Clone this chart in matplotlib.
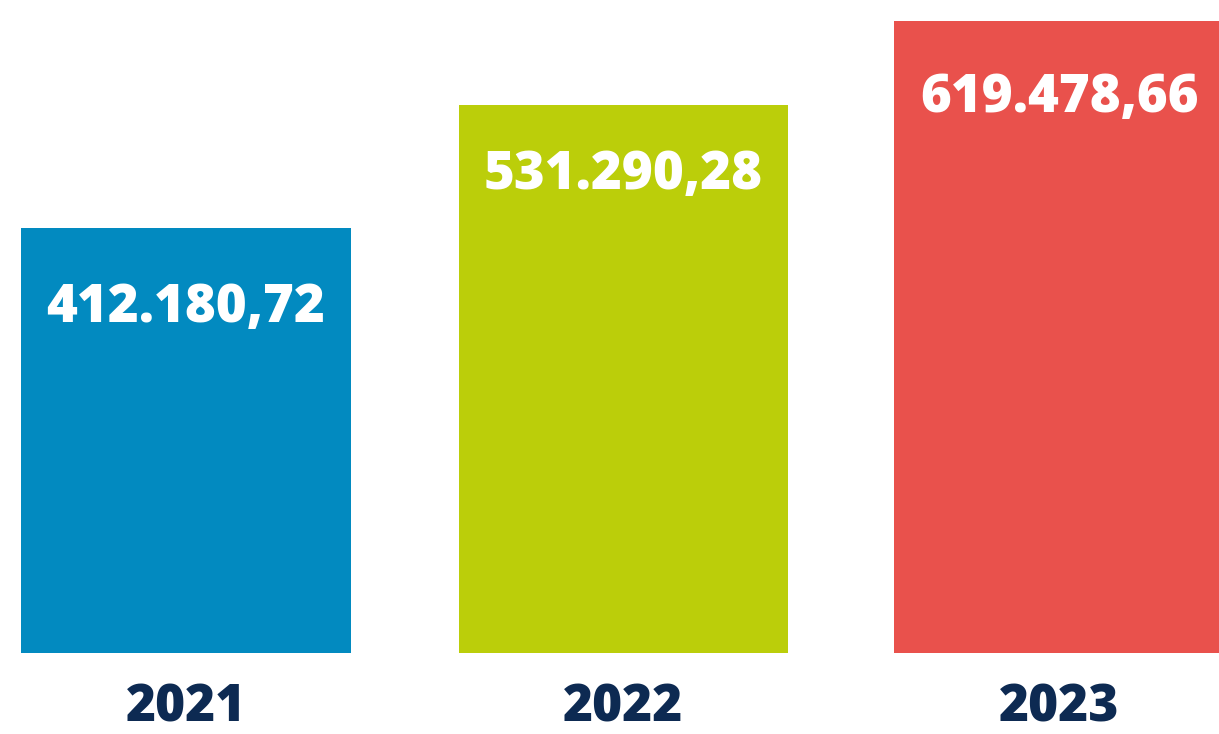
import matplotlib

matplotlib.use("Agg")
import matplotlib.pyplot as plt

years = ["2021", "2022", "2023"]
values = [412180.72, 531290.28, 619478.66]
value_labels = ["412.180,72", "531.290,28", "619.478,66"]
colors = ["#028AC0", "#BBCE0A", "#E9514C"]
# Abstand der Werte unter der Balkenoberkante (Pixel)
label_offsets = [80, 70, 84]

fig = plt.figure(figsize=(12.19, 7.34), dpi=100)
ax = fig.add_axes([21 / 1219, 81 / 734, 1198 / 1219, 632 / 734])

x = [0, 1.008, 2.012]
ax.bar(x, values, width=0.76, color=colors)
ax.set_xlim(-0.38, 2.38)
ax.set_ylim(0, max(values) * 0.99)

for i, (v, lab) in enumerate(zip(values, value_labels)):
    ax.annotate(lab, (x[i], v), xytext=(0, -label_offsets[i] * 0.72),
                textcoords="offset points", ha="center", va="center",
                color="white", fontsize=38, fontweight="heavy",
                family="Open Sans", annotation_clip=False)
    ax.annotate(years[i], (x[i], 0), xytext=(0, -55 * 0.72),
                textcoords="offset points", ha="center", va="center",
                color="#0D2A52", fontsize=37, fontweight="heavy",
                family="Open Sans")

ax.axis("off")
fig.savefig("out.png", dpi=100)
